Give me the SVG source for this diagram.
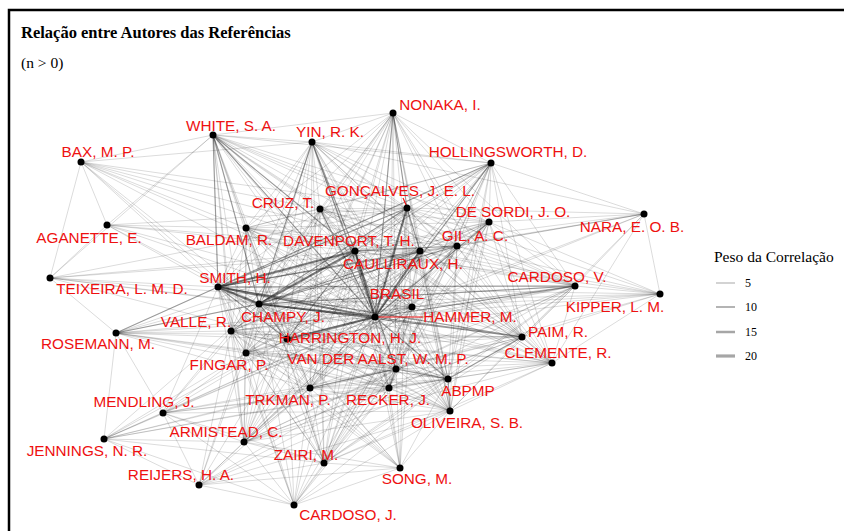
<svg xmlns="http://www.w3.org/2000/svg" width="844" height="531" viewBox="0 0 844 531">
<style>
.e0{fill:none;stroke:#000;stroke-opacity:.19;stroke-width:.75}
.e1{fill:none;stroke:#000;stroke-opacity:.3;stroke-width:1.2}
.e2{fill:none;stroke:#000;stroke-opacity:.45;stroke-width:2.2}
.n circle{fill:#000}
.lb{font-family:"Liberation Sans",Arial,sans-serif;font-size:15.3px;fill:#ee1111;text-anchor:middle}
.ld{stroke:#ee1111;stroke-width:1.2}
.serif{font-family:"Liberation Serif","Times New Roman",serif;fill:#000}
.lg{stroke:#000;stroke-opacity:.35}
</style>
<rect width="844" height="531" fill="#fff"/>
<path d="M9 531V10H844" fill="none" stroke="#000" stroke-width="2.5"/>
<text class="serif" x="21" y="38" font-size="16.5" font-weight="bold">Relação entre Autores das Referências</text>
<text class="serif" x="21" y="68" font-size="15.5">(n &gt; 0)</text>
<g id="connectors">
<path class="e0" d="M213 135L393 113M213 135L312 142M213 135L491 163M213 135L320 209M213 135L407 208M213 135L489 222M213 135L246 228M213 135L218 287M213 135L355 251M213 135L420 251M213 135L457 246M213 135L575 286M213 135L412 307M213 135L375 317M213 135L259 304M213 135L231 331M213 135L246 353M213 135L287 339M213 135L522 337M213 135L552 363M213 135L396 369M213 135L448 379M213 135L310 388M213 135L389 388M213 135L450 411M213 135L244 442M213 135L324 463"/>
<path class="e0" d="M393 113L312 142M393 113L491 163M393 113L320 209M393 113L407 208M393 113L489 222M393 113L246 228M393 113L218 287M393 113L355 251M393 113L420 251M393 113L457 246M393 113L575 286M393 113L412 307M393 113L375 317M393 113L259 304M393 113L231 331M393 113L246 353M393 113L287 339M393 113L522 337M393 113L552 363M393 113L396 369M393 113L448 379M393 113L310 388M393 113L389 388M393 113L450 411M393 113L244 442M393 113L324 463"/>
<path class="e0" d="M312 142L491 163M312 142L320 209M312 142L407 208M312 142L489 222M312 142L246 228M312 142L218 287M312 142L355 251M312 142L420 251M312 142L457 246M312 142L575 286M312 142L412 307M312 142L375 317M312 142L259 304M312 142L231 331M312 142L246 353M312 142L287 339M312 142L522 337M312 142L552 363M312 142L396 369M312 142L448 379M312 142L310 388M312 142L389 388M312 142L450 411M312 142L244 442M312 142L324 463"/>
<path class="e0" d="M491 163L320 209M491 163L407 208M491 163L489 222M491 163L246 228M491 163L218 287M491 163L355 251M491 163L420 251M491 163L457 246M491 163L575 286M491 163L412 307M491 163L375 317M491 163L259 304M491 163L231 331M491 163L246 353M491 163L287 339M491 163L522 337M491 163L552 363M491 163L396 369M491 163L448 379M491 163L310 388M491 163L389 388M491 163L450 411M491 163L244 442M491 163L324 463"/>
<path class="e0" d="M320 209L407 208M320 209L489 222M320 209L246 228M320 209L218 287M320 209L355 251M320 209L420 251M320 209L457 246M320 209L575 286M320 209L412 307M320 209L375 317M320 209L259 304M320 209L231 331M320 209L246 353M320 209L287 339M320 209L522 337M320 209L552 363M320 209L396 369M320 209L448 379M320 209L310 388M320 209L389 388M320 209L450 411M320 209L244 442M320 209L324 463"/>
<path class="e0" d="M407 208L489 222M407 208L246 228M407 208L218 287M407 208L355 251M407 208L420 251M407 208L457 246M407 208L575 286M407 208L412 307M407 208L375 317M407 208L259 304M407 208L231 331M407 208L246 353M407 208L287 339M407 208L522 337M407 208L552 363M407 208L396 369M407 208L448 379M407 208L310 388M407 208L389 388M407 208L450 411M407 208L244 442M407 208L324 463"/>
<path class="e0" d="M489 222L246 228M489 222L218 287M489 222L355 251M489 222L420 251M489 222L457 246M489 222L575 286M489 222L412 307M489 222L375 317M489 222L259 304M489 222L231 331M489 222L246 353M489 222L287 339M489 222L522 337M489 222L552 363M489 222L396 369M489 222L448 379M489 222L310 388M489 222L389 388M489 222L450 411M489 222L244 442M489 222L324 463"/>
<path class="e0" d="M246 228L218 287M246 228L355 251M246 228L420 251M246 228L457 246M246 228L575 286M246 228L412 307M246 228L375 317M246 228L259 304M246 228L231 331M246 228L246 353M246 228L287 339M246 228L522 337M246 228L552 363M246 228L396 369M246 228L448 379M246 228L310 388M246 228L389 388M246 228L450 411M246 228L244 442M246 228L324 463"/>
<path class="e0" d="M218 287L355 251M218 287L420 251M218 287L457 246M218 287L575 286M218 287L412 307M218 287L375 317M218 287L259 304M218 287L231 331M218 287L246 353M218 287L287 339M218 287L522 337M218 287L552 363M218 287L396 369M218 287L448 379M218 287L310 388M218 287L389 388M218 287L450 411M218 287L244 442M218 287L324 463"/>
<path class="e0" d="M355 251L420 251M355 251L457 246M355 251L575 286M355 251L412 307M355 251L375 317M355 251L259 304M355 251L231 331M355 251L246 353M355 251L287 339M355 251L522 337M355 251L552 363M355 251L396 369M355 251L448 379M355 251L310 388M355 251L389 388M355 251L450 411M355 251L244 442M355 251L324 463"/>
<path class="e0" d="M420 251L457 246M420 251L575 286M420 251L412 307M420 251L375 317M420 251L259 304M420 251L231 331M420 251L246 353M420 251L287 339M420 251L522 337M420 251L552 363M420 251L396 369M420 251L448 379M420 251L310 388M420 251L389 388M420 251L450 411M420 251L244 442M420 251L324 463"/>
<path class="e0" d="M457 246L575 286M457 246L412 307M457 246L375 317M457 246L259 304M457 246L231 331M457 246L246 353M457 246L287 339M457 246L522 337M457 246L552 363M457 246L396 369M457 246L448 379M457 246L310 388M457 246L389 388M457 246L450 411M457 246L244 442M457 246L324 463"/>
<path class="e0" d="M575 286L412 307M575 286L375 317M575 286L259 304M575 286L231 331M575 286L246 353M575 286L287 339M575 286L522 337M575 286L552 363M575 286L396 369M575 286L448 379M575 286L310 388M575 286L389 388M575 286L450 411M575 286L244 442M575 286L324 463"/>
<path class="e0" d="M412 307L375 317M412 307L259 304M412 307L231 331M412 307L246 353M412 307L287 339M412 307L522 337M412 307L552 363M412 307L396 369M412 307L448 379M412 307L310 388M412 307L389 388M412 307L450 411M412 307L244 442M412 307L324 463"/>
<path class="e0" d="M375 317L259 304M375 317L231 331M375 317L246 353M375 317L287 339M375 317L522 337M375 317L552 363M375 317L396 369M375 317L448 379M375 317L310 388M375 317L389 388M375 317L450 411M375 317L244 442M375 317L324 463"/>
<path class="e0" d="M259 304L231 331M259 304L246 353M259 304L287 339M259 304L522 337M259 304L552 363M259 304L396 369M259 304L448 379M259 304L310 388M259 304L389 388M259 304L450 411M259 304L244 442M259 304L324 463"/>
<path class="e0" d="M231 331L246 353M231 331L287 339M231 331L522 337M231 331L552 363M231 331L396 369M231 331L448 379M231 331L310 388M231 331L389 388M231 331L450 411M231 331L244 442M231 331L324 463"/>
<path class="e0" d="M246 353L287 339M246 353L522 337M246 353L552 363M246 353L396 369M246 353L448 379M246 353L310 388M246 353L389 388M246 353L450 411M246 353L244 442M246 353L324 463"/>
<path class="e0" d="M287 339L522 337M287 339L552 363M287 339L396 369M287 339L448 379M287 339L310 388M287 339L389 388M287 339L450 411M287 339L244 442M287 339L324 463"/>
<path class="e0" d="M522 337L552 363M522 337L396 369M522 337L448 379M522 337L310 388M522 337L389 388M522 337L450 411M522 337L244 442M522 337L324 463"/>
<path class="e0" d="M552 363L396 369M552 363L448 379M552 363L310 388M552 363L389 388M552 363L450 411M552 363L244 442M552 363L324 463"/>
<path class="e0" d="M396 369L448 379M396 369L310 388M396 369L389 388M396 369L450 411M396 369L244 442M396 369L324 463"/>
<path class="e0" d="M448 379L310 388M448 379L389 388M448 379L450 411M448 379L244 442M448 379L324 463"/>
<path class="e0" d="M310 388L389 388M310 388L450 411M310 388L244 442M310 388L324 463M389 388L450 411M389 388L244 442M389 388L324 463M450 411L244 442M450 411L324 463M244 442L324 463"/>
<path class="e0" d="M81 162L213 135M81 162L107 225M81 162L50 278M81 162L320 209M81 162L355 251M81 162L375 317M81 162L259 304M81 162L218 287M81 162L246 228M81 162L312 142M81 162L407 208M81 162L420 251M81 162L287 339M81 162L412 307"/>
<path class="e0" d="M644 214L489 222M644 214L457 246M644 214L491 163M644 214L420 251M644 214L407 208M644 214L660 294M644 214L575 286M644 214L355 251M644 214L375 317M644 214L522 337M644 214L552 363M644 214L412 307M644 214L312 142M644 214L218 287"/>
<path class="e0" d="M107 225L50 278M107 225L213 135M107 225L355 251M107 225L375 317M107 225L259 304M107 225L218 287M107 225L420 251M107 225L407 208M107 225L412 307M107 225L246 228"/>
<path class="e0" d="M50 278L116 333M50 278L213 135M50 278L218 287M50 278L259 304M50 278L375 317M50 278L355 251M50 278L412 307M50 278L287 339M50 278L420 251M50 278L407 208"/>
<path class="e0" d="M660 294L575 286M660 294L522 337M660 294L375 317M660 294L412 307M660 294L420 251M660 294L457 246M660 294L489 222M660 294L355 251M660 294L259 304M660 294L218 287M660 294L287 339M660 294L396 369M660 294L407 208M660 294L552 363"/>
<path class="e0" d="M116 333L218 287M116 333L259 304M116 333L231 331M116 333L375 317M116 333L287 339M116 333L246 353M116 333L396 369M116 333L448 379M116 333L355 251M116 333L412 307M116 333L420 251M116 333L163 413M116 333L104 439M116 333L522 337M116 333L389 388M116 333L310 388"/>
<path class="e0" d="M163 413L104 439M163 413L199 485M163 413L244 442M163 413L231 331M163 413L246 353M163 413L259 304M163 413L375 317M163 413L287 339M163 413L396 369M163 413L448 379M163 413L310 388M163 413L389 388M163 413L324 463M163 413L294 505M163 413L218 287M163 413L412 307M163 413L450 411"/>
<path class="e0" d="M104 439L199 485M104 439L244 442M104 439L294 505M104 439L324 463M104 439L375 317M104 439L287 339M104 439L396 369M104 439L448 379M104 439L310 388M104 439L389 388M104 439L246 353M104 439L259 304M104 439L412 307"/>
<path class="e0" d="M199 485L244 442M199 485L294 505M199 485L324 463M199 485L375 317M199 485L287 339M199 485L396 369M199 485L448 379M199 485L310 388M199 485L389 388M199 485L400 468M199 485L246 353M199 485L231 331M199 485L259 304M199 485L450 411"/>
<path class="e0" d="M400 468L294 505M400 468L324 463M400 468L450 411M400 468L448 379M400 468L396 369M400 468L389 388M400 468L375 317M400 468L287 339M400 468L310 388M400 468L259 304M400 468L218 287M400 468L355 251M400 468L244 442M400 468L246 353M400 468L231 331M400 468L412 307M400 468L407 208"/>
<path class="e0" d="M294 505L324 463M294 505L244 442M294 505L375 317M294 505L287 339M294 505L396 369M294 505L448 379M294 505L389 388M294 505L310 388M294 505L246 353M294 505L231 331M294 505L259 304M294 505L218 287M294 505L450 411M294 505L355 251M294 505L412 307"/>
<path class="e1" d="M213 135L375 317M213 135L355 251M213 135L259 304M213 135L218 287M312 142L375 317M312 142L355 251M312 142L259 304M393 113L375 317M393 113L407 208M491 163L375 317M491 163L218 287M407 208L218 287M407 208L259 304M407 208L420 251M420 251L218 287M420 251L259 304M355 251L287 339M355 251L396 369M575 286L375 317M575 286L259 304M575 286L218 287M522 337L375 317M522 337L218 287M522 337L259 304M396 369L448 379M396 369L389 388M396 369L310 388M448 379L522 337M448 379L375 317M448 379L450 411M287 339L259 304M287 339L218 287M116 333L218 287M116 333L259 304M457 246L355 251M457 246L259 304M489 222L375 317M320 209L375 317"/>
<path class="e2" d="M375 317L355 251M375 317L259 304M375 317L218 287M259 304L218 287M375 317L287 339M375 317L407 208M355 251L259 304M355 251L218 287M375 317L420 251"/>
</g>
<g id="nodes" class="n">
<g id="n-white"><circle cx="213" cy="135" r="3.5"/><text class="lb" x="231" y="131">WHITE, S. A.</text></g>
<g id="n-bax"><circle cx="81" cy="162" r="3.5"/><text class="lb" x="98" y="157">BAX, M. P.</text></g>
<g id="n-nonaka"><circle cx="393" cy="113" r="3.5"/><text class="lb" x="440" y="110">NONAKA, I.</text></g>
<g id="n-yin"><circle cx="312" cy="142" r="3.5"/><text class="lb" x="330" y="137">YIN, R. K.</text></g>
<g id="n-hollingsworth"><circle cx="491" cy="163" r="3.5"/><text class="lb" x="508" y="157">HOLLINGSWORTH, D.</text></g>
<g id="n-cruz"><circle cx="320" cy="209" r="3.5"/><text class="lb" x="283" y="208">CRUZ, T.</text></g>
<g id="n-goncalves"><line class="ld" x1="403" y1="198" x2="407" y2="207"/><circle cx="407" cy="208" r="3.5"/><text class="lb" x="400" y="196">GONÇALVES, J. E. L.</text></g>
<g id="n-desordi"><circle cx="489" cy="222" r="3.5"/><text class="lb" x="513" y="217">DE SORDI, J. O.</text></g>
<g id="n-nara"><circle cx="644" cy="214" r="3.5"/><text class="lb" x="632" y="232">NARA, E. O. B.</text></g>
<g id="n-aganette"><circle cx="107" cy="225" r="3.5"/><text class="lb" x="89" y="243">AGANETTE, E.</text></g>
<g id="n-teixeira"><circle cx="50" cy="278" r="3.5"/><text class="lb" x="122" y="294">TEIXEIRA, L. M. D.</text></g>
<g id="n-baldam"><circle cx="246" cy="228" r="3.5"/><text class="lb" x="229" y="245">BALDAM, R.</text></g>
<g id="n-smith"><circle cx="218" cy="287" r="3.5"/><text class="lb" x="235" y="283">SMITH, H.</text></g>
<g id="n-davenport"><circle cx="355" cy="251" r="3.5"/><text class="lb" x="349" y="246">DAVENPORT, T. H.</text></g>
<g id="n-caulliraux"><circle cx="420" cy="251" r="3.5"/><text class="lb" x="403" y="269">CAULLIRAUX, H.</text></g>
<g id="n-gil"><circle cx="457" cy="246" r="3.5"/><text class="lb" x="475" y="241">GIL, A. C.</text></g>
<g id="n-cardosov"><circle cx="575" cy="286" r="3.5"/><text class="lb" x="557" y="282">CARDOSO, V.</text></g>
<g id="n-kipper"><circle cx="660" cy="294" r="3.5"/><text class="lb" x="615" y="312">KIPPER, L. M.</text></g>
<g id="n-brasil"><circle cx="412" cy="307" r="3.5"/><text class="lb" x="397" y="299">BRASIL</text></g>
<g id="n-hammer"><line class="ld" x1="375" y1="317" x2="423" y2="317"/><circle cx="375" cy="317" r="3.5"/><text class="lb" x="470" y="322">HAMMER, M.</text></g>
<g id="n-champy"><circle cx="259" cy="304" r="3.5"/><text class="lb" x="283" y="322">CHAMPY, J.</text></g>
<g id="n-valle"><circle cx="231" cy="331" r="3.5"/><text class="lb" x="196" y="327">VALLE, R.</text></g>
<g id="n-rosemann"><circle cx="116" cy="333" r="3.5"/><text class="lb" x="98" y="349">ROSEMANN, M.</text></g>
<g id="n-fingar"><circle cx="246" cy="353" r="3.5"/><text class="lb" x="229" y="370">FINGAR, P.</text></g>
<g id="n-harrington"><circle cx="287" cy="339" r="3.5"/><text class="lb" x="350" y="343">HARRINGTON, H. J.</text></g>
<g id="n-paim"><circle cx="522" cy="337" r="3.5"/><text class="lb" x="558" y="337">PAIM, R.</text></g>
<g id="n-clemente"><circle cx="552" cy="363" r="3.5"/><text class="lb" x="558" y="358">CLEMENTE, R.</text></g>
<g id="n-vanderaalst"><circle cx="396" cy="369" r="3.5"/><text class="lb" x="378" y="364">VAN DER AALST, W. M. P.</text></g>
<g id="n-abpmp"><circle cx="448" cy="379" r="3.5"/><text class="lb" x="468" y="396">ABPMP</text></g>
<g id="n-trkman"><circle cx="310" cy="388" r="3.5"/><text class="lb" x="288" y="405">TRKMAN, P.</text></g>
<g id="n-recker"><circle cx="389" cy="388" r="3.5"/><text class="lb" x="388" y="405">RECKER, J.</text></g>
<g id="n-oliveira"><circle cx="450" cy="411" r="3.5"/><text class="lb" x="467" y="428">OLIVEIRA, S. B.</text></g>
<g id="n-mendling"><circle cx="163" cy="413" r="3.5"/><text class="lb" x="144" y="407">MENDLING, J.</text></g>
<g id="n-jennings"><circle cx="104" cy="439" r="3.5"/><text class="lb" x="87" y="456">JENNINGS, N. R.</text></g>
<g id="n-armistead"><circle cx="244" cy="442" r="3.5"/><text class="lb" x="226" y="437">ARMISTEAD, C.</text></g>
<g id="n-reijers"><circle cx="199" cy="485" r="3.5"/><text class="lb" x="181" y="480">REIJERS, H. A.</text></g>
<g id="n-zairi"><circle cx="324" cy="463" r="3.5"/><text class="lb" x="306" y="460">ZAIRI, M.</text></g>
<g id="n-song"><circle cx="400" cy="468" r="3.5"/><text class="lb" x="417" y="484">SONG, M.</text></g>
<g id="n-cardosoj"><circle cx="294" cy="505" r="3.5"/><text class="lb" x="348" y="520">CARDOSO, J.</text></g>
</g>
<g id="legend">
<text class="serif" x="714" y="262" font-size="15.5">Peso da Correlação</text>
<line class="lg" x1="716" y1="283" x2="735" y2="283" stroke-width="1"/>
<line class="lg" x1="716" y1="307" x2="735" y2="307" stroke-width="1.7"/>
<line class="lg" x1="716" y1="332" x2="735" y2="332" stroke-width="2.5"/>
<line class="lg" x1="716" y1="356" x2="735" y2="356" stroke-width="3.2"/>
<text class="serif" x="745" y="287" font-size="12">5</text>
<text class="serif" x="745" y="311" font-size="12">10</text>
<text class="serif" x="745" y="336" font-size="12">15</text>
<text class="serif" x="745" y="360" font-size="12">20</text>
</g>
</svg>
